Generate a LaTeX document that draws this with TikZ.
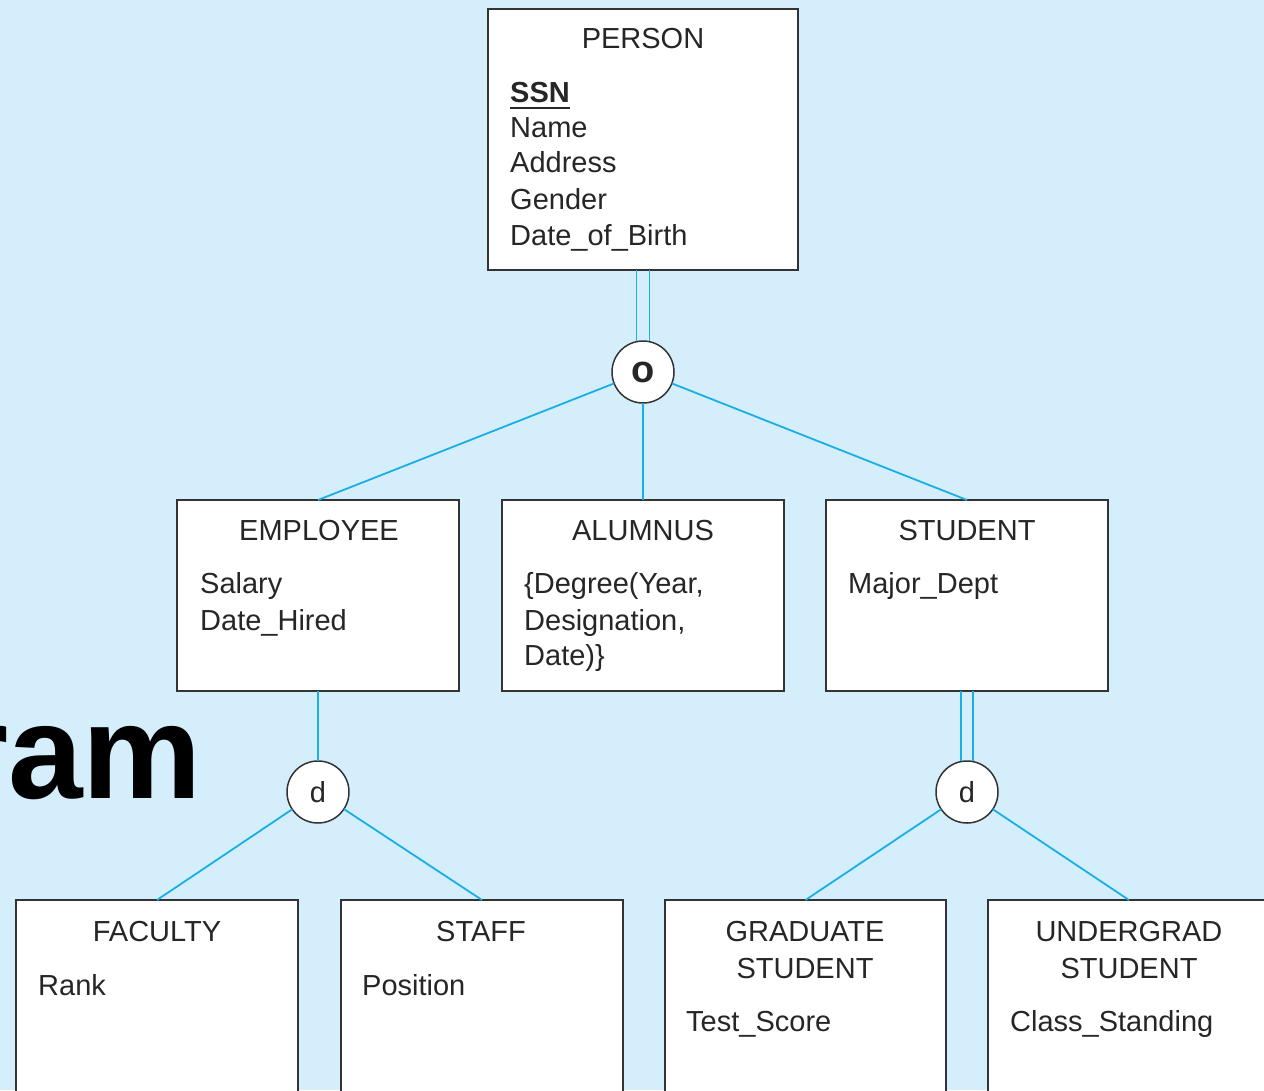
\documentclass[tikz,border=0pt]{standalone}
\usepackage{fontspec}
\setmainfont{Liberation Sans}
\definecolor{bgblue}{HTML}{D4EEFB}
\definecolor{connblue}{HTML}{1AAEE6}
\definecolor{edgegray}{HTML}{333333}
\definecolor{inkgray}{HTML}{262626}
\begin{document}
\begin{tikzpicture}[x=1pt,y=-1pt,
  entity/.style={draw=edgegray, line width=1.8pt, fill=white, rectangle, inner sep=0pt, outer sep=0pt, anchor=north west},
  spec/.style={draw=edgegray, line width=1.5pt, fill=white, circle, minimum size=62pt, inner sep=0pt, outer sep=0pt, text=inkgray, font=\fontsize{29}{29}\selectfont},
  connector/.style={draw=connblue, line width=1.8pt},
  etitle/.style={anchor=base, text=inkgray, font=\fontsize{29}{36}\selectfont, inner sep=0pt},
  attr/.style={anchor=base west, text=inkgray, font=\fontsize{29}{36}\selectfont, inner sep=0pt}]
\path[use as bounding box] (0,0) rectangle (1264,1090);
\clip (0,0) rectangle (1264,1090);
\fill[bgblue] (0,0) rectangle (1264,1090);

% title fragment
\node[anchor=base west, inner sep=0pt, text=black, font=\fontsize{134}{134}\selectfont\bfseries] (ram) at (-44,798) {ram};

% connectors (drawn first, boxes cover their ends)
\coordinate (pc) at (643,270);
\coordinate (ovc) at (643,372);
\coordinate (d1c) at (318,792);
\coordinate (d2c) at (967,792);

% entity boxes
\node[entity, minimum width=310pt, minimum height=261pt] (person) at (488,9) {};
\node[entity, minimum width=282pt, minimum height=191pt] (employee) at (177,500) {};
\node[entity, minimum width=282pt, minimum height=191pt] (alumnus) at (502,500) {};
\node[entity, minimum width=282pt, minimum height=191pt] (student) at (826,500) {};
\node[entity, minimum width=282pt, minimum height=220pt] (faculty) at (16,900) {};
\node[entity, minimum width=282pt, minimum height=220pt] (staff) at (341,900) {};
\node[entity, minimum width=281pt, minimum height=220pt] (grad) at (665,900) {};
\node[entity, minimum width=282pt, minimum height=220pt] (under) at (988,900) {};

% specialization circles
\node[spec, font=\fontsize{38}{38}\selectfont\bfseries] (ov) at (ovc) {o};
\node[spec] (d1) at (d1c) {d};
\node[spec] (d2) at (d2c) {d};

% connectors
\draw[connector] ([xshift=-6.5pt]person.south) -- ([xshift=-6.5pt]ov.north);
\draw[connector] ([xshift=6.5pt]person.south) -- ([xshift=6.5pt]ov.north);
\draw[connector] (ov) -- (employee.north);
\draw[connector] (ov) -- (alumnus.north);
\draw[connector] (ov) -- (student.north);
\draw[connector] (employee.south) -- (d1.north);
\draw[connector] ([xshift=-6pt]student.south) -- ([xshift=-6pt]d2.north);
\draw[connector] ([xshift=6pt]student.south) -- ([xshift=6pt]d2.north);
\draw[connector] (d1) -- (faculty.north);
\draw[connector] (d1) -- (staff.north);
\draw[connector] (d2) -- (grad.north);
\draw[connector] (d2) -- (under.north);

% PERSON texts
\node[etitle] (tperson) at (643,48) {PERSON};
\node[attr, font=\fontsize{29}{36}\selectfont\bfseries] (ssn) at (510,102) {SSN};
\draw[inkgray, line width=2pt] ([yshift=-6pt]ssn.base west) -- ([yshift=-6pt]ssn.base east);
\node[attr] (pname) at (510,137) {Name};
\node[attr] (paddr) at (510,172) {Address};
\node[attr] (pgender) at (510,209) {Gender};
\node[attr] (pdob) at (510,245) {Date\_of\_Birth};

% middle row
\node[etitle] (temployee) at (319,540) {EMPLOYEE};
\node[attr] (esal) at (200,593) {Salary};
\node[attr] (ehire) at (200,630) {Date\_Hired};
\node[etitle] (talumnus) at (643,540) {ALUMNUS};
\node[attr] (adeg) at (524,593) {\{Degree(Year,};
\node[attr] (ades) at (524,630) {Designation,};
\node[attr] (adate) at (524,665) {Date)\}};
\node[etitle] (tstudent) at (967,540) {STUDENT};
\node[attr] (smaj) at (848,593) {Major\_Dept};

% bottom row
\node[etitle] (tfaculty) at (157,941) {FACULTY};
\node[attr] (frank) at (38,995) {Rank};
\node[etitle] (tstaff) at (481,941) {STAFF};
\node[attr] (spos) at (362,995) {Position};
\node[etitle] (tgrad1) at (805,941) {GRADUATE};
\node[etitle] (tgrad2) at (805,978) {STUDENT};
\node[attr] (gtest) at (686,1031) {Test\_Score};
\node[etitle] (tunder1) at (1129,941) {UNDERGRAD};
\node[etitle] (tunder2) at (1129,978) {STUDENT};
\node[attr] (ucls) at (1010,1031) {Class\_Standing};
\end{tikzpicture}
\end{document}
